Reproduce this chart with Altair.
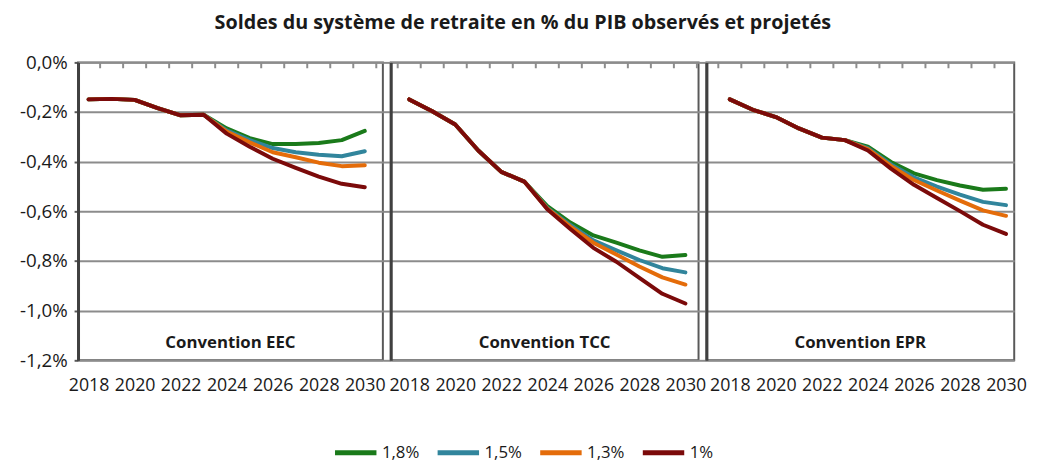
import altair as alt
import pandas as pd

years = list(range(2018, 2031))
label_years = [2018, 2020, 2022, 2024, 2026, 2028, 2030]
y_ticks = [0.0, -0.2, -0.4, -0.6, -0.8, -1.0, -1.2]
tick_pos = [2017.5 + k for k in range(14)]

panels = ["Convention EEC", "Convention TCC", "Convention EPR"]
series = ["1,8%", "1,5%", "1,3%", "1%"]
colors = ["#1a7a1a", "#31859c", "#e46c0a", "#7b0a0a"]

# values 2018-2023 (common to all scenarios)
eec_common = [-0.149, -0.147, -0.151, -0.184, -0.213, -0.211]
tcc_common = [-0.149, -0.197, -0.250, -0.355, -0.441, -0.480]
epr_common = [-0.149, -0.191, -0.220, -0.266, -0.303, -0.313]

# values 2024-2030 per scenario
eec_18 = [-0.266, -0.305, -0.329, -0.329, -0.325, -0.313, -0.276]
eec_15 = [-0.274, -0.313, -0.345, -0.362, -0.372, -0.378, -0.358]
eec_13 = [-0.279, -0.322, -0.362, -0.382, -0.404, -0.418, -0.414]
eec_10 = [-0.287, -0.340, -0.388, -0.425, -0.460, -0.489, -0.503]

tcc_18 = [-0.579, -0.645, -0.697, -0.726, -0.757, -0.783, -0.776]
tcc_15 = [-0.586, -0.655, -0.717, -0.757, -0.796, -0.829, -0.846]
tcc_13 = [-0.589, -0.661, -0.726, -0.774, -0.822, -0.866, -0.895]
tcc_10 = [-0.592, -0.671, -0.747, -0.803, -0.868, -0.932, -0.971]

epr_18 = [-0.339, -0.401, -0.447, -0.474, -0.496, -0.513, -0.509]
epr_15 = [-0.345, -0.411, -0.463, -0.500, -0.533, -0.562, -0.575]
epr_13 = [-0.349, -0.417, -0.474, -0.516, -0.557, -0.596, -0.618]
epr_10 = [-0.355, -0.428, -0.493, -0.546, -0.599, -0.654, -0.691]

panel_data = {
    "Convention EEC": (eec_common, [eec_18, eec_15, eec_13, eec_10]),
    "Convention TCC": (tcc_common, [tcc_18, tcc_15, tcc_13, tcc_10]),
    "Convention EPR": (epr_common, [epr_18, epr_15, epr_13, epr_10]),
}

rows = []
for p in panels:
    common, proj = panel_data[p]
    for s, vals in zip(series, proj):
        for yr, v in zip(years, common + vals):
            rows.append({"panel": p, "serie": s, "year": yr, "value": v})
df = pd.DataFrame(rows)

FONT = "Open Sans"
FRAME = "#595959"
GRID = "#8c8c8c"

widths = [309, 312, 312]
domains = [[2017.541, 2030.786], [2017.198, 2030.571], [2016.984, 2030.357]]
H = 302


def make_panel(i):
    name = panels[i]
    w = widths[i]
    d = df[df.panel == name]
    first = i == 0
    yaxis = alt.Axis(
        values=y_ticks,
        grid=True,
        gridColor=GRID,
        gridWidth=2,
        labels=first,
        labelExpr="replace(replace(format(datum.value, '.1f'), '.', ','), '\u2212', '-') + '%'",
        labelFont=FONT,
        labelFontSize=19,
        labelColor="#1a1a1a",
        labelPadding=7,
        tickSize=4 if first else 8,
        tickColor=FRAME if first else GRID,
        tickWidth=2,
        domainColor="#404040",
        domainWidth=3,
        title=None,
    )
    xaxis = alt.Axis(
        values=label_years,
        format="d",
        ticks=False,
        domain=False,
        grid=False,
        labelFont=FONT,
        labelFontSize=18,
        labelColor="#1a1a1a",
        labelPadding=17,
        labelFlush=False,
        labelOverlap=False,
        title=None,
    )
    xs = alt.Scale(domain=domains[i], nice=False, zero=False)
    ys = alt.Scale(domain=[-1.2, 0], nice=False, zero=False)

    lines = alt.Chart(d).mark_line(
        strokeWidth=4, strokeCap="round", strokeJoin="round"
    ).encode(
        x=alt.X("year:Q", scale=xs, axis=xaxis),
        y=alt.Y("value:Q", scale=ys, axis=yaxis),
        color=alt.Color(
            "serie:N",
            scale=alt.Scale(domain=series, range=colors),
            sort=series,
            legend=alt.Legend(
                title=None,
                orient="none",
                direction="horizontal",
                legendX=258,
                legendY=372,
                symbolType="stroke",
                symbolSize=1764,
                symbolStrokeWidth=5,
                labelFont=FONT,
                labelFontSize=17,
                labelColor="#1a1a1a",
                labelOffset=3,
                columnPadding=8,
            ),
        ),
        order=alt.Order("serie_order:Q"),
    ).transform_calculate(
        serie_order="indexof(['1,8%','1,5%','1,3%','1%'], datum.serie)"
    )

    ticks = alt.Chart(pd.DataFrame({"year": tick_pos})).mark_rule(
        color=GRID, strokeWidth=2, clip=True
    ).encode(
        x=alt.X("year:Q", scale=xs, axis=xaxis),
        y=alt.value(0),
        y2=alt.value(6),
    )

    label = alt.Chart(pd.DataFrame({"t": [name]})).mark_text(
        font=FONT, fontSize=17, fontWeight="bold", color="#1a1a1a"
    ).encode(
        text="t:N",
        x=alt.value(w / 2),
        y=alt.value(285),
    )

    return alt.layer(lines, ticks, label).properties(width=w, height=H)


chart = alt.hconcat(
    make_panel(0), make_panel(1), make_panel(2), spacing=8, bounds="flush"
).properties(
    title=alt.TitleParams(
        "Soldes du système de retraite en % du PIB observés et projetés",
        font=FONT,
        fontSize=20,
        fontWeight="bold",
        color="#1a1a1a",
        anchor="middle",
        offset=20,
    ),
    padding={"left": 10, "top": 2, "right": 2, "bottom": 0},
).configure_view(
    stroke=FRAME, strokeWidth=2
)

chart.save("out.html", embed_options={"renderer": "svg", "actions": False})
